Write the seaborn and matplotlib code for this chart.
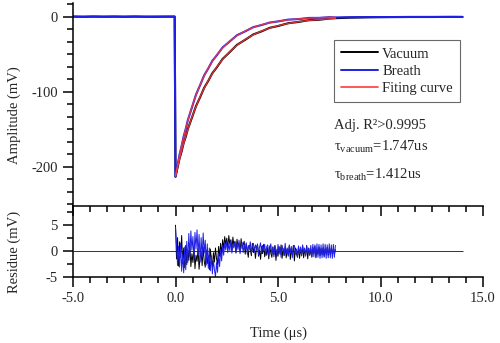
import numpy as np
import matplotlib
matplotlib.use("Agg")
import matplotlib.pyplot as plt
from matplotlib.ticker import MultipleLocator, AutoMinorLocator, FormatStrFormatter
from matplotlib.lines import Line2D
import seaborn as sns

sns.set_style("ticks")
plt.rcParams['font.family'] = ['Liberation Serif', 'DejaVu Serif']
plt.rcParams['mathtext.fontset'] = 'custom'
plt.rcParams['mathtext.rm'] = 'Liberation Serif'
plt.rcParams['mathtext.it'] = 'Liberation Serif:italic'
plt.rcParams['axes.unicode_minus'] = False

# ---------------- data ----------------
# baseline before the pulse
t_base = [-5.0, -4.5, -4.0, -3.5, -3.0, -2.5, -2.0, -1.5, -1.0, -0.5, -0.04]
vac_base = [0.0, -0.2, 0.1, -0.1, 0.0, -0.2, 0.1, -0.1, -0.2, 0.0, 0.0]
br_base = [0.0, -0.2, 0.0, -0.2, 0.1, -0.1, 0.0, -0.2, 0.0, -0.1, 0.0]

# decay part (fit window)
t_fit = [0.0, 0.1, 0.2, 0.3, 0.4, 0.5, 0.6, 0.8, 1.0, 1.2, 1.4, 1.6, 1.8, 2.0,
         2.3, 2.6, 3.0, 3.4, 3.8, 4.2, 4.6, 5.0, 5.5, 6.0, 6.5, 7.0, 7.5, 7.8]
vac_decay = [-213.0, -200.8, -188.6, -179.2, -168.0, -159.9, -149.8, -134.6, -119.1,
             -107.3, -94.7, -85.4, -75.2, -68.1, -56.3, -48.4, -37.6, -30.8, -23.7,
             -19.6, -14.9, -12.5, -8.8, -7.1, -4.8, -4.2, -2.6, -2.1]
br_decay = [-213.0, -198.2, -183.4, -172.0, -159.1, -149.5, -138.0, -121.0, -103.8,
            -91.2, -78.1, -68.9, -58.7, -52.0, -41.0, -34.1, -24.8, -19.6, -14.0,
            -11.2, -7.9, -6.4, -4.0, -3.3, -1.8, -1.7, -0.8, -1.1]
fit_vac = [-212.0, -200.2, -189.1, -178.5, -168.6, -159.2, -150.4, -134.1, -119.7,
           -106.7, -95.2, -84.9, -75.7, -67.5, -56.8, -47.9, -38.1, -30.3, -24.1,
           -19.2, -15.2, -12.1, -9.1, -6.8, -5.1, -3.9, -2.9, -2.4]
fit_br = [-212.0, -197.5, -184.0, -171.4, -159.7, -148.8, -138.6, -120.3, -104.4,
          -90.6, -78.7, -68.3, -59.3, -51.4, -41.6, -33.6, -25.3, -19.1, -14.4,
          -10.8, -8.2, -6.1, -4.3, -3.0, -2.1, -1.5, -1.0, -0.9]

# tail after the fit window
t_tail = [8.5, 9.5, 10.5, 11.5, 12.5, 13.5, 14.0]
vac_tail = [-1.4, -0.9, -0.6, -0.5, -0.5, -0.4, -0.4]
br_tail = [-0.8, -0.6, -0.6, -0.5, -0.5, -0.4, -0.5]

# residuals (sampled every 0.05 us from 0 to 7.8 us)
t_res = np.round(np.arange(0, 157) * 0.05, 2)
res_br = [4.6, 1.2, -2.8, 0.9, -3.1, 1.5, -3.9, -0.6, -4.2, 0.8,
          -3.6, 1.9, -2.2, 3.4, -1.0, 3.9, 0.2, 2.8, -1.6, 3.6,
          0.4, 4.1, -0.8, 3.2, -2.1, 2.6, -1.2, 3.5, -0.4, 2.1,
          -2.7, 1.4, -3.3, 0.6, -3.8, -0.9, -4.4, -1.8, -3.6, -5.0,
          -2.2, -4.1, -0.7, -3.0, 0.3, -1.9, 1.1, -0.8, 1.6, 0.2,
          1.9, -0.3, 1.4, 0.1, 2.0, -0.4, 1.2, 0.6, 1.8, -0.2,
          1.5, 0.3, 2.1, -0.5, 1.0, 1.7, -0.3, 1.3, 0.2, 1.6,
          -0.6, 1.1, 0.4, 1.8, -0.4, 0.9, 1.5, -0.2, 1.2, 0.5,
          1.4, -0.7, 0.8, 1.6, -0.5, 1.1, 0.2, 1.3, -0.8, 0.9,
          1.2, -0.9, 0.6, 1.4, -0.6, 0.8, -1.1, 1.0, 0.3, -0.9,
          1.3, -0.4, 0.7, -1.2, 1.1, 0.2, -0.8, 1.5, -0.5, 0.6,
          -1.0, 1.2, -0.3, 0.9, -1.3, 0.7, 1.1, -0.6, 0.4, -1.1,
          1.0, -0.5, 0.8, -0.9, 1.2, -0.2, 0.6, -1.0, 0.9, -0.4,
          0.5, -0.8, 1.1, -1.2, 1.3, -1.1, 1.2, -1.3, 1.4, -1.2,
          1.3, -1.4, 1.2, -1.3, 1.4, -1.2, 1.3, -1.4, 1.2, -1.3,
          1.4, -1.3, 1.2, -1.4, 1.3, -1.2, 1.1]
res_vac = [5.0, -1.5, 2.6, -2.9, 1.8, -1.2, 3.0, -2.4, 0.6, -3.2,
           1.1, -2.6, 0.3, -1.8, 1.4, -3.0, -0.5, -2.2, 0.9, -3.4,
           -0.8, -2.0, 0.5, -3.5, -1.1, -0.2, -2.8, 0.7, -1.9, -3.1,
           0.2, -2.4, -0.9, -3.6, 0.4, -1.7, -2.9, -0.3, -2.1, 0.6,
           -1.4, -2.6, 0.9, -1.0, 1.5, -0.6, 2.2, 0.4, 2.8, 1.2,
           2.5, 0.6, 3.0, 1.3, 2.2, 0.2, 2.7, 1.0, 1.9, -0.4,
           2.3, 0.8, 1.6, -0.2, 2.4, 0.5, 1.2, 1.9, -0.6, 1.4,
           0.3, -1.2, 1.1, 0.4, -0.9, 1.5, -0.3, 0.8, -1.4, 0.6,
           1.2, -1.0, 0.2, -1.6, 0.9, -0.5, 1.3, -1.1, 0.4, -0.8,
           0.7, -1.5, 1.0, -0.4, -1.2, 0.8, -0.7, 1.1, -1.8, 0.3,
           -1.0, 0.9, -0.6, 1.2, -1.4, 0.5, -0.9, 0.8, -1.3, 0.4,
           -0.8, 1.0, -1.6, 0.2, -0.7, 1.1, -1.9, 0.6, -0.5, -1.2,
           0.8, -1.4, 0.5, -0.9, 1.0, -1.3, 0.3, -0.7, 1.1, -1.5,
           0.6, -0.8, 0.4, -1.1, 0.7, -0.5, 0.9, -1.2, 0.3, -0.6,
           0.8, -0.9, 0.5, -0.7, 0.6, -1.0, 0.4, -0.6, 0.7, -0.8,
           0.5, -0.7, 0.6, -0.5, 0.4, -0.6, 0.3]
zero_line_x = [-5.0, 14.0]

legend_labels = ["Vacuum", "Breath", "Fiting curve"]

t_sig = t_base + t_fit + t_tail
vac_sig = vac_base + vac_decay + vac_tail
br_sig = br_base + br_decay + br_tail

BLUE = '#1f1fe6'
RED = '#ff3a3a'

# ---------------- figure ----------------
fig = plt.figure(figsize=(5.0, 3.43), dpi=100)
L, R = 73 / 500, 483 / 500
ax1 = fig.add_axes([L, 1 - 206 / 343, R - L, (206 - 2.7) / 343])
ax2 = fig.add_axes([L, 1 - 277 / 343, R - L, (277 - 206) / 343])
ax2.patch.set_visible(False)
ax1.set_zorder(3)
ax1.patch.set_visible(False)

sns.lineplot(x=t_sig, y=vac_sig, ax=ax1, color='black', lw=1.5, estimator=None, sort=False)
sns.lineplot(x=t_sig, y=br_sig, ax=ax1, color=BLUE, lw=1.5, estimator=None, sort=False)
sns.lineplot(x=t_fit, y=fit_vac, ax=ax1, color=RED, lw=1.0, alpha=0.85, estimator=None, sort=False)
sns.lineplot(x=t_fit, y=fit_br, ax=ax1, color=RED, lw=1.0, alpha=0.85, estimator=None, sort=False)

ax2.hlines(0, zero_line_x[0], zero_line_x[1], color='#333333', lw=0.7)
sns.lineplot(x=t_res, y=res_vac, ax=ax2, color='black', lw=0.7, estimator=None, sort=False)
sns.lineplot(x=t_res, y=res_br, ax=ax2, color=BLUE, lw=0.7, estimator=None, sort=False)

for ax in (ax1, ax2):
    ax.set_xlim(-5, 15)
    ax.spines['top'].set_visible(False)
    ax.spines['right'].set_visible(False)
    for s in ('left', 'bottom'):
        ax.spines[s].set_linewidth(1.1)
        ax.spines[s].set_color('black')
    ax.xaxis.set_major_locator(MultipleLocator(5))
    ax.xaxis.set_minor_locator(AutoMinorLocator(6))
    ax.tick_params(which='major', direction='out', length=7, width=1.1, color='black',
                   labelsize=10.5, pad=4)
    ax.tick_params(which='minor', direction='out', length=4, width=1.1, color='black')
    ax.set_xlabel('')
    ax.set_ylabel('')

ax1.set_ylim(-252, 18.5)
ax1.yaxis.set_major_locator(MultipleLocator(100))
ax1.yaxis.set_minor_locator(AutoMinorLocator(6))
ax1.tick_params(axis='x', labelbottom=False)

ax2.set_ylim(-5, 8.7)
ax2.set_yticks([-5, 0, 5])
ax2.yaxis.set_minor_locator(MultipleLocator(2.5))
ax2.xaxis.set_major_formatter(FormatStrFormatter('%.1f'))

# legend
handles = [Line2D([], [], color='black', lw=1.4),
           Line2D([], [], color=BLUE, lw=1.4),
           Line2D([], [], color=RED, lw=1.2)]
leg = ax1.legend(handles, legend_labels, loc='upper left', bbox_to_anchor=(0.637, 0.8165),
                 borderaxespad=0, frameon=True, fancybox=False, fontsize=10.5,
                 handlelength=2.5, handletextpad=0.3, labelspacing=0.28, borderpad=0.5)
leg.get_frame().set_edgecolor('#444444')
leg.get_frame().set_linewidth(0.8)

# annotations
fs = 10.5
fig.text(334 / 500, 1 - 126 / 343, 'Adj. R²>0.9995', fontsize=fs, ha='left', va='center')
fig.text(334 / 500, 1 - 147 / 343, r'τ$_{\mathrm{vacuum}}$=1.747us', fontsize=fs, ha='left', va='center')
fig.text(334 / 500, 1 - 175 / 343, r'τ$_{\mathrm{breath}}$=1.412us', fontsize=fs, ha='left', va='center')

fig.text(14 / 500, 1 - 115 / 343, 'Amplitude (mV)', rotation=90, fontsize=10.5, ha='center', va='center')
fig.text(14 / 500, 1 - 251.5 / 343, 'Residue (mV)', rotation=90, fontsize=10.5, ha='center', va='center')
fig.text(278 / 500, 1 - 333 / 343, 'Time (μs)', fontsize=10.5, ha='center', va='center')

fig.savefig('out.png', dpi=100)
